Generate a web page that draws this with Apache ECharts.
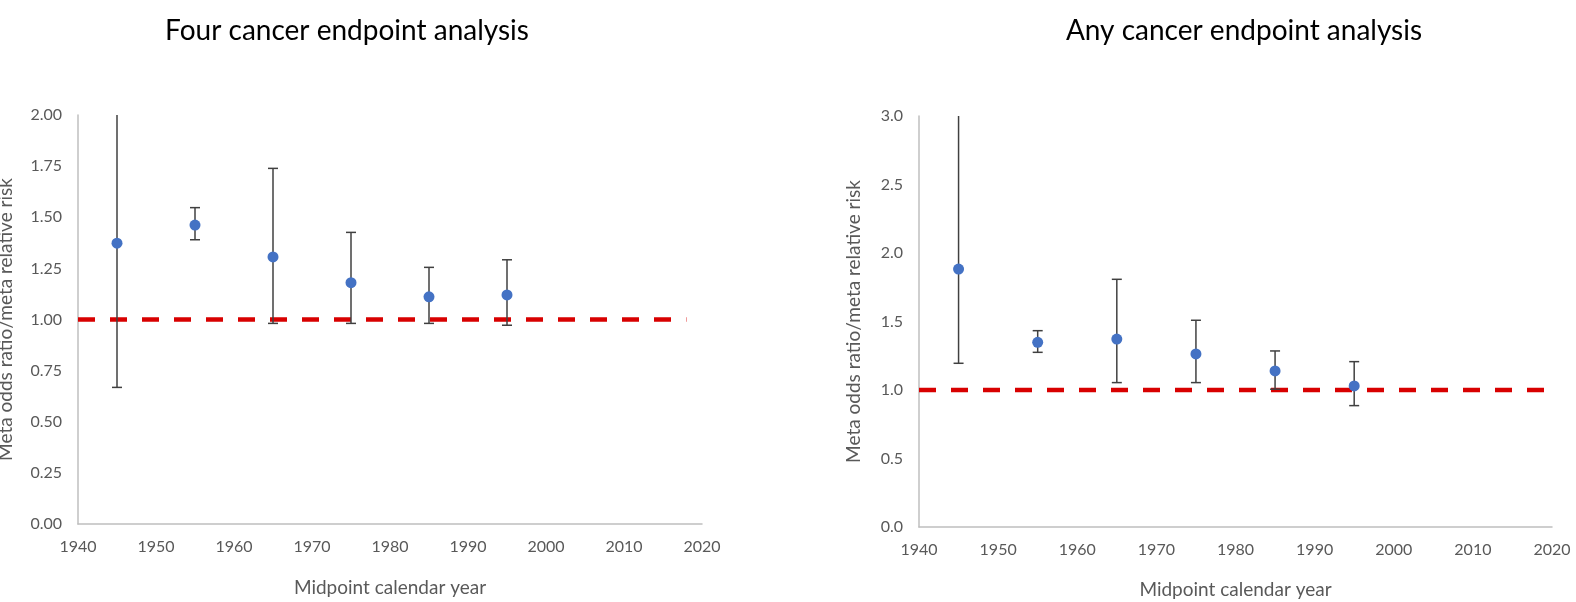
<!DOCTYPE html>
<html>
<head>
<meta charset="utf-8">
<script src="https://cdn.jsdelivr.net/npm/echarts@6/dist/echarts.min.js"></script>
<style>
html,body{margin:0;padding:0;background:#fff;}
#c{width:1576px;height:602px;}
</style>
</head>
<body>
<div id="c"></div>
<script>
// ---- data ----
const years = [1945, 1955, 1965, 1975, 1985, 1995];
const fourEst   = [1.373, 1.462, 1.306, 1.180, 1.111, 1.120];
const fourLower = [0.668, 1.390, 0.981, 0.981, 0.981, 0.972];
const fourUpper = [2.00, 1.547, 1.739, 1.426, 1.255, 1.292];
const anyEst    = [1.883, 1.348, 1.372, 1.263, 1.139, 1.030];
const anyLower  = [1.195, 1.275, 1.054, 1.054, 1.006, 0.886];
const anyUpper  = [3.00, 1.433, 1.808, 1.509, 1.285, 1.207];
const refLeft  = [[1940, 1], [2018, 1]];
const refRight = [[1940, 1], [2020, 1]];
const titles = ['Four cancer endpoint analysis', 'Any cancer endpoint analysis'];
const xName = 'Midpoint calendar year';
const yName = 'Meta odds ratio/meta relative risk';

const FONT = 'Lato, "Open Sans", sans-serif';
const GREY = '#595959';

function errData(lo, hi) { return years.map((y, i) => [y, lo[i], hi[i]]); }
function pts(est) { return years.map((y, i) => [y, est[i]]); }

function errSeries(idx, data, yMax) {
  return {
    type: 'custom', xAxisIndex: idx, yAxisIndex: idx, z: 2,
    data: data,
    renderItem: function (params, api) {
      const x = api.value(0), lo = api.value(1), hi = api.value(2);
      const pLo = api.coord([x, lo]), pHi = api.coord([x, hi]);
      const w = 5;
      const st = { stroke: '#404040', lineWidth: 1.5 };
      const ch = [{ type: 'line', shape: { x1: pLo[0], y1: pLo[1], x2: pHi[0], y2: pHi[1] }, style: st },
                  { type: 'line', shape: { x1: pLo[0] - w, y1: pLo[1], x2: pLo[0] + w, y2: pLo[1] }, style: st }];
      if (hi < yMax) ch.push({ type: 'line', shape: { x1: pHi[0] - w, y1: pHi[1], x2: pHi[0] + w, y2: pHi[1] }, style: st });
      return { type: 'group', children: ch };
    }
  };
}

function xAxis(idx, gap) {
  return {
    gridIndex: idx, type: 'value', min: 1940, max: 2020, interval: 10,
    name: xName, nameLocation: 'middle', nameGap: gap,
    nameTextStyle: { fontFamily: FONT, fontSize: 19, color: GREY },
    axisLine: { show: true, lineStyle: { color: '#bfbfbf', width: 1.5 } },
    axisTick: { show: false }, splitLine: { show: false },
    axisLabel: { fontFamily: FONT, fontSize: 16, color: GREY, margin: 15,
      formatter: v => String(v) }
  };
}
function yAxis(idx, max, interval, dec, gap) {
  return {
    gridIndex: idx, type: 'value', min: 0, max: max, interval: interval,
    name: yName, nameLocation: 'middle', nameGap: gap,
    nameTextStyle: { fontFamily: FONT, fontSize: 19, color: GREY },
    axisLine: { show: true, lineStyle: { color: '#bfbfbf', width: 1.5 } },
    axisTick: { show: false }, splitLine: { show: false },
    axisLabel: { fontFamily: FONT, fontSize: 16, color: GREY, margin: 16,
      formatter: v => v.toFixed(dec) }
  };
}
function refSeries(idx, data) {
  return { type: 'line', xAxisIndex: idx, yAxisIndex: idx, data: data, symbol: 'none', z: 1,
    lineStyle: { color: '#d80000', width: 4.5, type: [17, 15] }, silent: true };
}
function ptSeries(idx, data) {
  return { type: 'scatter', xAxisIndex: idx, yAxisIndex: idx, data: data, z: 3,
    symbol: 'circle', symbolSize: 11, itemStyle: { color: '#4472C4', opacity: 1 } };
}

const chart = echarts.init(document.getElementById('c'), null, { renderer: 'canvas' });
chart.setOption({
  animation: false,
  backgroundColor: '#fff',
  title: [
    { text: titles[0], left: 342, top: 12, textAlign: 'center',
      textStyle: { fontFamily: FONT, fontSize: 28, fontWeight: 'normal', color: '#000' } },
    { text: titles[1], left: 1239, top: 12, textAlign: 'center',
      textStyle: { fontFamily: FONT, fontSize: 28, fontWeight: 'normal', color: '#000' } }
  ],
  grid: [
    { left: 78, top: 115, width: 624, height: 409, outerBoundsMode: 'none', containLabel: false },
    { left: 919, top: 116, width: 633, height: 411, outerBoundsMode: 'none', containLabel: false }
  ],
  xAxis: [xAxis(0, 54), xAxis(1, 53)],
  yAxis: [yAxis(0, 2, 0.25, 2, 63), yAxis(1, 3, 0.5, 1, 56)],
  series: [
    refSeries(0, refLeft),
    errSeries(0, errData(fourLower, fourUpper), 2),
    ptSeries(0, pts(fourEst)),
    refSeries(1, refRight),
    errSeries(1, errData(anyLower, anyUpper), 3),
    ptSeries(1, pts(anyEst))
  ]
});
</script>
</body>
</html>
